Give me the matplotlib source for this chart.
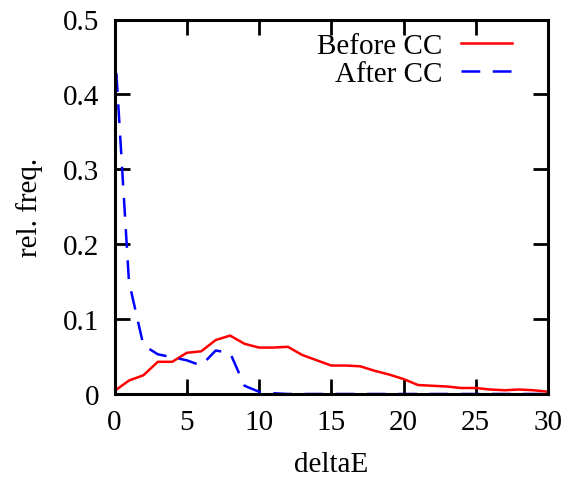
import matplotlib
matplotlib.use("Agg")
import matplotlib.pyplot as plt

delta_e = list(range(0, 31))
before_cc = [0.004, 0.018, 0.025, 0.043, 0.043, 0.055, 0.057, 0.072, 0.078, 0.067,
             0.062, 0.062, 0.063, 0.052, 0.045, 0.038, 0.038, 0.037, 0.031, 0.026,
             0.020, 0.012, 0.011, 0.010, 0.008, 0.008, 0.006, 0.005, 0.006, 0.005,
             0.003]
after_cc = [0.47, 0.15, 0.065, 0.053, 0.049, 0.045, 0.038, 0.058, 0.055, 0.011,
            0.003, 0.001, 0.0, 0.0, 0.0, 0.0, 0.0, 0.0, 0.0, 0.0,
            0.0, 0.0, 0.0, 0.0, 0.0, 0.0, 0.0, 0.0, 0.0, 0.0, 0.0]
xticks = [0, 5, 10, 15, 20, 25, 30]
yticks = [0, 0.1, 0.2, 0.3, 0.4, 0.5]
ytick_labels = ["0", "0.1", "0.2", "0.3", "0.4", "0.5"]

plt.rcParams['font.family'] = ['Liberation Serif', 'DejaVu Serif']
plt.rcParams['font.size'] = 21

fig = plt.figure(figsize=(5.69, 4.81), dpi=100)
ax = fig.add_axes([114.5/569, 1 - 395/481, (548-114.5)/569, (395-20.5)/481])

ax.plot(delta_e, before_cc, color='#ff0000', lw=1.8, label='Before CC')
l2, = ax.plot(delta_e, after_cc, color='#0000ff', lw=1.8, label='After CC')
l2.set_dashes([7.5, 5])

ax.set_xlim(0, 30)
ax.set_ylim(0, 0.5)
ax.set_xticks(xticks)
ax.set_yticks(yticks)
ax.set_yticklabels(ytick_labels)
ax.tick_params(direction='in', length=10.5, width=2, top=True, right=True, pad=11)
for s in ax.spines.values():
    s.set_linewidth(2.2)

ax.set_xlabel('deltaE', labelpad=11)
ax.set_ylabel('rel. freq.', labelpad=14)

ax.legend(loc='upper right', bbox_to_anchor=(0.917, 0.965), frameon=False,
          markerfirst=False, borderaxespad=0, borderpad=0, handlelength=1.75,
          handletextpad=0.65, labelspacing=0.05)

fig.savefig('out.png', dpi=100)
